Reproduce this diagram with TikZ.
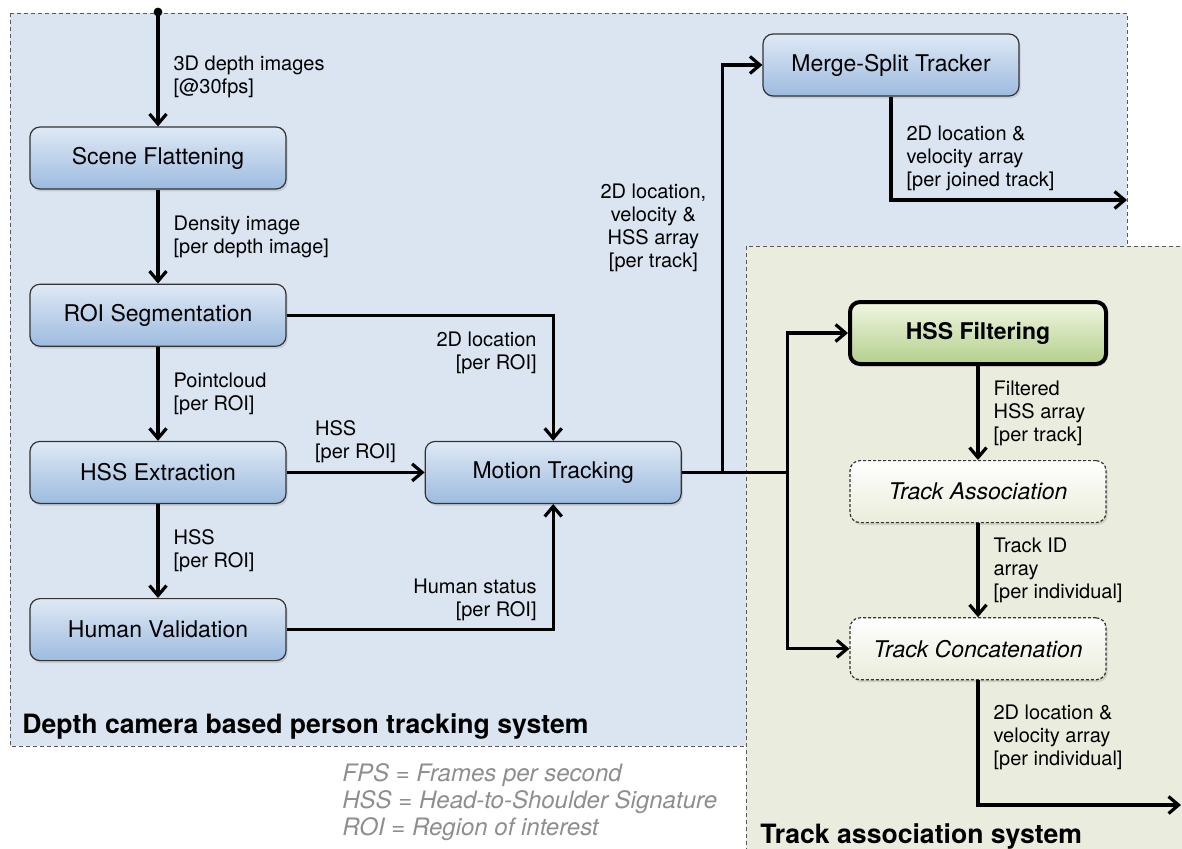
\documentclass[tikz,border=0pt]{standalone}
\usepackage{fontspec}
\setmainfont{TeX Gyre Heros}
\usepackage{xcolor}
\usetikzlibrary{arrows.meta,positioning,shadows,backgrounds}

\definecolor{depthbg}{HTML}{DAE5F1}
\definecolor{trackbg}{HTML}{EAECDE}
\definecolor{blocktop}{HTML}{DFE9F5}
\definecolor{blockbot}{HTML}{9DBBDF}
\definecolor{greentop}{HTML}{F1F6E2}
\definecolor{greenbot}{HTML}{B3CF8C}
\definecolor{dashbot}{HTML}{E9EDDA}
\definecolor{legendgray}{HTML}{8E8E8E}

\begin{document}
\begin{tikzpicture}[
    x=0.5pt, y=0.5pt,
    node distance=47pt and 69pt,
    block/.style={draw=black!80, line width=0.6pt, rounded corners=5pt, align=center, minimum width=128pt, minimum height=31pt, top color=blocktop, bottom color=blockbot, drop shadow={opacity=0.25, shadow xshift=0.8pt, shadow yshift=-1.2pt}, font=\fontsize{11.5}{13.5}\selectfont},
    greenblock/.style={block, draw=black, line width=2pt, top color=greentop, bottom color=greenbot, font=\fontsize{11.5}{13.5}\selectfont\bfseries},
    dashblock/.style={block, dash pattern=on 1.5pt off 1pt, top color=white, bottom color=dashbot, font=\fontsize{11.5}{13.5}\selectfont\itshape},
    arrow/.style={-{Straight Barb[length=5pt, width=8.5pt]}, line width=1.6pt},
    wire/.style={line width=1.6pt},
    lbl/.style={font=\fontsize{10}{11.5}\selectfont, align=left, inner sep=0pt},
    region/.style={draw=black!65, dash pattern=on 2pt off 1.5pt, line width=0.5pt},
    title/.style={font=\fontsize{13.3}{15}\selectfont\bfseries, anchor=base west, inner sep=0pt},
    legend/.style={font=\fontsize{12}{13.5}\selectfont\itshape, text=legendgray, align=left, anchor=north west, inner sep=0pt}
]
\useasboundingbox (0,0) rectangle (1182,-848);

% depth camera system
\node[block] (scene) at (158,-158) {Scene Flattening};
\node[block, below=of scene] (roi) {ROI Segmentation};
\node[block, below=of roi] (hssext) {HSS Extraction};
\node[block, below=of hssext] (human) {Human Validation};
\node[block, right=of hssext] (motion) {Motion Tracking};
\node[block] (merge) at (891,-65) {Merge-Split Tracker};

% track association system
\node[greenblock] (filter) at (978,-333) {HSS Filtering};
\node[dashblock, below=of filter] (assoc) {Track Association};
\node[dashblock, below=of assoc] (concat) {Track Concatenation};

\coordinate (start) at (158,-12);
\coordinate (split) at ([xshift=20.5pt]motion.east);
\coordinate (branch) at ([xshift=53pt]motion.east);
\coordinate (mergeout) at (1127,-200);
\coordinate (concatout) at (1181,-805);

\node[title] (depthtitle) at (22,-733) {Depth camera based person tracking system};
\node[title] (tracktitle) at (760,-843) {Track association system};
\node[legend] (abbrev) at (342,-763) {FPS = Frames per second\\HSS = Head-to-Shoulder Signature\\ROI = Region of interest};

\begin{scope}[on background layer]
\draw[region, fill=depthbg] (10,-13) rectangle (1127,-746);
\draw[region, fill=trackbg] (746,-246) rectangle (1200,-870);
\end{scope}

\fill (start) circle (2.2pt);
\draw[arrow] (start) -- node[lbl, right=7pt, pos=0.57]{3D depth images\\{}[@30fps]} (scene);
\draw[arrow] (scene) -- node[lbl, right=7pt]{Density image\\{}[per depth image]} (roi);
\draw[arrow] (roi) -- node[lbl, right=7pt]{Pointcloud\\{}[per ROI]} (hssext);
\draw[arrow] (hssext) -- node[lbl, right=7pt]{HSS\\{}[per ROI]} (human);
\draw[arrow] (hssext) -- node[lbl, above=4pt]{HSS\\{}[per ROI]} (motion);
\draw[arrow] (roi) -| node[lbl, align=right, left=7.5pt, pos=0.65]{2D location\\{}[per ROI]} (motion);
\draw[arrow] (human) -| node[lbl, align=right, left=7.5pt, pos=0.62]{Human status\\{}[per ROI]} (motion);
\draw[wire] (motion) -- (branch);
\draw[arrow] (split) |- node[lbl, align=center, left=7.5pt, pos=0.3]{2D location,\\velocity \&\\HSS array\\{}[per track]} (merge);
\draw[arrow] (merge) |- node[lbl, right=7pt, pos=0.3]{2D location \&\\velocity array\\{}[per joined track]} (mergeout);
\draw[arrow] (branch) |- (filter);
\draw[arrow] (branch) |- (concat);
\draw[arrow] (filter) -- node[lbl, right=7pt]{Filtered\\HSS array\\{}[per track]} (assoc);
\draw[arrow] (assoc) -- node[lbl, right=7pt]{Track ID\\array\\{}[per individual]} (concat);
\draw[arrow] (concat) |- node[lbl, right=7pt, pos=0.23]{2D location \&\\velocity array\\{}[per individual]} (concatout);
\end{tikzpicture}
\end{document}
